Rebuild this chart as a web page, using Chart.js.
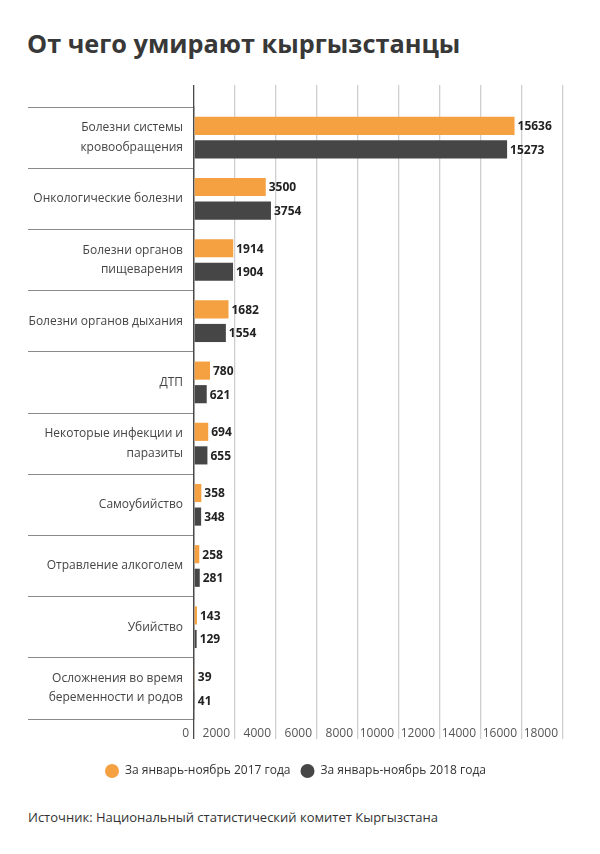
<!DOCTYPE html>
<html lang="ru">
<head>
  <meta charset="UTF-8" />
  <title>От чего умирают кыргызстанцы</title>
  <script src="https://cdn.jsdelivr.net/npm/chart.js"></script>
  <style>
    body {
      margin: 0;
      background: #fff;
      font-family: 'Open Sans', sans-serif;
      color: #333;
    }
    .wrap {
      position: relative;
      width: 600px;
      height: 854px;
    }
    h1 {
      position: absolute;
      left: 27px;
      top: 27px;
      margin: 0;
      font-size: 25.3px;
      line-height: 32px;
      font-weight: 700;
      color: #383838;
    }
    canvas {
      position: absolute;
      left: 0;
      top: 85px;
    }
    .source {
      position: absolute;
      left: 28px;
      top: 807px;
      font-size: 13px;
      line-height: 20px;
      color: #333;
    }
  </style>
</head>
<body>
  <div class="wrap">
    <h1>От чего умирают кыргызстанцы</h1>
    <canvas id="chart" width="600" height="702"></canvas>
    <div class="source">Источник: Национальный статистический комитет Кыргызстана</div>
  </div>

  <script>
    const causes = [
      ['Болезни системы', 'кровообращения'],
      'Онкологические болезни',
      ['Болезни органов', 'пищеварения'],
      'Болезни органов дыхания',
      'ДТП',
      ['Некоторые инфекции и', 'паразиты'],
      'Самоубийство',
      'Отравление алкоголем',
      'Убийство',
      ['Осложнения во время', 'беременности и родов']
    ];
    const deaths2017 = [15636, 3500, 1914, 1682, 780, 694, 358, 258, 143, 39];
    const deaths2018 = [15273, 3754, 1904, 1554, 621, 655, 348, 281, 129, 41];
    const seriesNames = ['За январь-ноябрь 2017 года', 'За январь-ноябрь 2018 года'];
    const xMax = 18000;
    const xStep = 2000;

    const gridColor = (c) => (c.tick && c.tick.value === 0 ? '#4a4a4a' : '#cfcfcf');

    // value labels at the end of each bar
    const valueLabels = {
      id: 'valueLabels',
      afterDatasetsDraw(chart) {
        const ctx = chart.ctx;
        ctx.save();
        ctx.font = 'bold 12px "Open Sans"';
        ctx.fillStyle = '#222';
        ctx.textAlign = 'left';
        ctx.textBaseline = 'middle';
        chart.data.datasets.forEach((ds, i) => {
          chart.getDatasetMeta(i).data.forEach((bar, j) => {
            ctx.fillText(ds.data[j], bar.x + 3, bar.y + 1);
          });
        });
        ctx.restore();
      }
    };

    new Chart(document.getElementById('chart'), {
      type: 'bar',
      data: {
        labels: causes,
        datasets: [
          {
            label: seriesNames[0],
            data: deaths2017,
            backgroundColor: '#f5a142',
            categoryPercentage: 0.77,
            barPercentage: 0.77
          },
          {
            label: seriesNames[1],
            data: deaths2018,
            backgroundColor: '#464646',
            categoryPercentage: 0.77,
            barPercentage: 0.77
          }
        ]
      },
      options: {
        indexAxis: 'y',
        responsive: false,
        animation: false,
        layout: { padding: { left: 28, right: 37, top: 0, bottom: 0 } },
        scales: {
          x: {
            position: 'bottom',
            min: 0,
            max: xMax,
            border: { display: false },
            grid: { color: gridColor, lineWidth: 1.3, tickLength: 20 },
            ticks: {
              stepSize: xStep,
              autoSkip: false,
              minRotation: 0,
              maxRotation: 0,
              align: 'end',
              labelOffset: -5,
              padding: -13,
              color: '#555',
              font: { family: 'Open Sans', size: 12 },
              callback: (v) => String(v)
            },
            afterFit(scale) { scale.height = 36; }
          },
          xTop: {
            position: 'top',
            min: 0,
            max: xMax,
            border: { display: false },
            grid: { color: gridColor, lineWidth: 1.3, tickLength: 22, drawOnChartArea: false },
            ticks: { stepSize: xStep, display: false }
          },
          y: {
            border: { display: true, color: '#4a4a4a', width: 1.3 },
            grid: { offset: true, drawOnChartArea: false, tickLength: 166, color: '#8a8a8a', lineWidth: 1 },
            ticks: {
              padding: -155,
              color: '#444',
              font: { family: 'Open Sans', size: 12, lineHeight: 1.6 }
            },
            afterFit(scale) { scale.width = 166; }
          }
        },
        plugins: {
          legend: {
            position: 'bottom',
            labels: {
              usePointStyle: true,
              pointStyle: 'circle',
              boxHeight: 10,
              pointStyleWidth: 14,
              padding: 10,
              color: '#333',
              font: { family: 'Open Sans', size: 12 }
            }
          },
          tooltip: { enabled: false }
        }
      },
      plugins: [valueLabels]
    });
  </script>
</body>
</html>
